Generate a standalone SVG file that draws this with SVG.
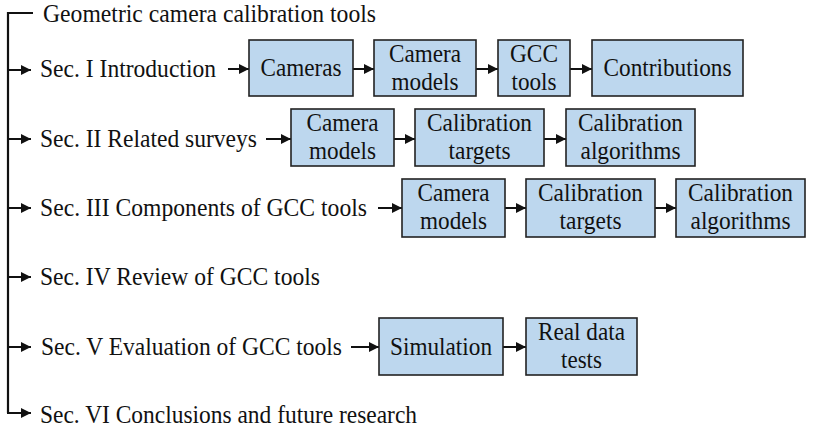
<svg xmlns="http://www.w3.org/2000/svg" width="813" height="434" viewBox="0 0 813 434">
<style>
text{font-family:'Liberation Serif','Times New Roman',Times,serif;font-size:25px;fill:#111;}
.c{text-anchor:middle;}
.box{fill:#bdd7ee;stroke:#222;stroke-width:1.6;}
.ln{stroke:#111;stroke-width:2.2;fill:none;}
.ar{stroke:#111;stroke-width:2;fill:none;marker-end:url(#ah);}
</style>
<defs>
<marker id="ah" markerUnits="userSpaceOnUse" markerWidth="11" markerHeight="11" refX="10" refY="5" orient="auto">
<path d="M0,0 L10,5 L0,10 z" fill="#111"/>
</marker>
</defs>
<rect width="813" height="434" fill="#fff"/>
<g id="connectors">
<path class="ln" d="M33,13 H8 V413"/>
<line class="ar" x1="8" y1="70" x2="31" y2="70"/>
<line class="ar" x1="8" y1="139" x2="31" y2="139"/>
<line class="ar" x1="8" y1="208" x2="31" y2="208"/>
<line class="ar" x1="8" y1="277" x2="31" y2="277"/>
<line class="ar" x1="8" y1="347" x2="31" y2="347"/>
<line class="ar" x1="7" y1="413" x2="31" y2="413"/>
<line class="ar" x1="228" y1="69" x2="249" y2="69"/>
<line class="ar" x1="353" y1="69" x2="374" y2="69"/>
<line class="ar" x1="476" y1="69" x2="498" y2="69"/>
<line class="ar" x1="570" y1="69" x2="592" y2="69"/>
<line class="ar" x1="266" y1="139" x2="291" y2="139"/>
<line class="ar" x1="394" y1="139" x2="415" y2="139"/>
<line class="ar" x1="544" y1="139" x2="566" y2="139"/>
<line class="ar" x1="378" y1="208" x2="402" y2="208"/>
<line class="ar" x1="505" y1="208" x2="526" y2="208"/>
<line class="ar" x1="655" y1="208" x2="676" y2="208"/>
<line class="ar" x1="351" y1="347" x2="379" y2="347"/>
<line class="ar" x1="503" y1="347" x2="526" y2="347"/>
</g>
<g font-family="Liberation Serif, serif">
<g id="title"><text x="43" y="22" textLength="333" lengthAdjust="spacingAndGlyphs">Geometric camera calibration tools</text></g>
<g id="sec1"><text x="40" y="77" textLength="176" lengthAdjust="spacingAndGlyphs">Sec. I Introduction</text></g>
<g id="sec2"><text x="40" y="147" textLength="217" lengthAdjust="spacingAndGlyphs">Sec. II Related surveys</text></g>
<g id="sec3"><text x="40" y="216" textLength="327" lengthAdjust="spacingAndGlyphs">Sec. III Components of GCC tools</text></g>
<g id="sec4"><text x="40" y="285" textLength="280" lengthAdjust="spacingAndGlyphs">Sec. IV Review of GCC tools</text></g>
<g id="sec5"><text x="41" y="355" textLength="301" lengthAdjust="spacingAndGlyphs">Sec. V Evaluation of GCC tools</text></g>
<g id="sec6"><text x="40" y="423" textLength="377" lengthAdjust="spacingAndGlyphs">Sec. VI Conclusions and future research</text></g>

<g id="n-cameras"><rect class="box" x="249" y="40" width="104" height="56"/><text class="c" x="301" y="76" textLength="81" lengthAdjust="spacingAndGlyphs">Cameras</text></g>
<g id="n-models1"><rect class="box" x="374" y="40" width="102" height="56"/><text class="c" x="425" y="62" textLength="72" lengthAdjust="spacingAndGlyphs">Camera</text><text class="c" x="425" y="90" textLength="67" lengthAdjust="spacingAndGlyphs">models</text></g>
<g id="n-gcc"><rect class="box" x="498" y="40" width="72" height="56"/><text class="c" x="534" y="62" textLength="48" lengthAdjust="spacingAndGlyphs">GCC</text><text class="c" x="534" y="90" textLength="45" lengthAdjust="spacingAndGlyphs">tools</text></g>
<g id="n-contrib"><rect class="box" x="592" y="40" width="151" height="56"/><text class="c" x="667.5" y="76" textLength="128" lengthAdjust="spacingAndGlyphs">Contributions</text></g>

<g id="n-models2"><rect class="box" x="291" y="109" width="103" height="57"/><text class="c" x="342.5" y="131" textLength="72" lengthAdjust="spacingAndGlyphs">Camera</text><text class="c" x="342.5" y="159" textLength="67" lengthAdjust="spacingAndGlyphs">models</text></g>
<g id="n-targets2"><rect class="box" x="415" y="109" width="129" height="57"/><text class="c" x="479.5" y="131" textLength="105" lengthAdjust="spacingAndGlyphs">Calibration</text><text class="c" x="479.5" y="159" textLength="62" lengthAdjust="spacingAndGlyphs">targets</text></g>
<g id="n-algo2"><rect class="box" x="566" y="109" width="129" height="57"/><text class="c" x="630.5" y="131" textLength="105" lengthAdjust="spacingAndGlyphs">Calibration</text><text class="c" x="630.5" y="159" textLength="100" lengthAdjust="spacingAndGlyphs">algorithms</text></g>

<g id="n-models3"><rect class="box" x="402" y="179" width="103" height="58"/><text class="c" x="453.5" y="201" textLength="72" lengthAdjust="spacingAndGlyphs">Camera</text><text class="c" x="453.5" y="229" textLength="67" lengthAdjust="spacingAndGlyphs">models</text></g>
<g id="n-targets3"><rect class="box" x="526" y="179" width="129" height="58"/><text class="c" x="590.5" y="201" textLength="105" lengthAdjust="spacingAndGlyphs">Calibration</text><text class="c" x="590.5" y="229" textLength="62" lengthAdjust="spacingAndGlyphs">targets</text></g>
<g id="n-algo3"><rect class="box" x="676" y="179" width="129" height="58"/><text class="c" x="740.5" y="201" textLength="105" lengthAdjust="spacingAndGlyphs">Calibration</text><text class="c" x="740.5" y="229" textLength="100" lengthAdjust="spacingAndGlyphs">algorithms</text></g>

<g id="n-sim"><rect class="box" x="379" y="318" width="124" height="57"/><text class="c" x="441" y="355" textLength="102" lengthAdjust="spacingAndGlyphs">Simulation</text></g>
<g id="n-real"><rect class="box" x="526" y="318" width="111" height="57"/><text class="c" x="581.5" y="340" textLength="87" lengthAdjust="spacingAndGlyphs">Real data</text><text class="c" x="581.5" y="368" textLength="41" lengthAdjust="spacingAndGlyphs">tests</text></g>
</g>
</svg>
